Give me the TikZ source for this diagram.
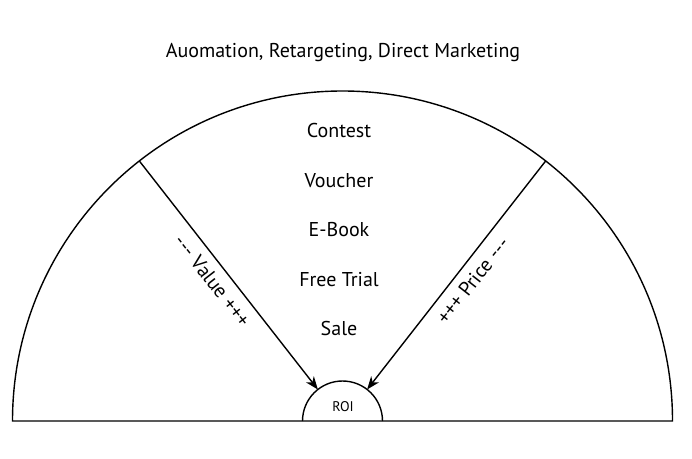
\documentclass[tikz,border=0pt]{standalone}
\usepackage{fontspec}
\setmainfont{PT Sans}
\usetikzlibrary{arrows.meta}

\begin{document}
\begin{tikzpicture}[x=1pt,y=1pt,
	item/.style={font=\fontsize{20}{24}\selectfont},
	pointer/.style={line width=1.4pt,-{Stealth[length=13pt,width=10pt,inset=4pt]}}]
	\useasboundingbox (0,0) rectangle (692,458);
	\coordinate (O) at (342.5,37);
	% outer half circle and the ROI
	\draw[line width=1.4pt] ([xshift=-330pt]O) arc (180:0:330) -- cycle;
	\draw[line width=1.4pt] ([xshift=-40pt]O) arc (180:0:40);
	\node[font=\fontsize{14}{16}\selectfont] (roi) at (343,51) {ROI};
	\node[item] (title) at (343,405) {Auomation, Retargeting, Direct Marketing};
	\node[item] (contest) at (339,327) {Contest};
	\node[item] (voucher) at (339,277) {Voucher};
	\node[item] (ebook) at (339,228) {E-Book};
	\node[item] (freetrial) at (339,178) {Free Trial};
	\node[item] (sale) at (339,130) {Sale};
	% value and price pointers
	\coordinate (valuetop) at ([shift={(128:330)}]O);
	\coordinate (valueend) at ([shift={(128:40)}]O);
	\coordinate (pricetop) at ([shift={(52:330)}]O);
	\coordinate (priceend) at ([shift={(52:40)}]O);
	\draw[pointer] (valuetop) -- node[item, sloped, below=5pt, pos=0.48] (value) {-{}-{}- Value +{}+{}+} (valueend);
	\draw[pointer] (pricetop) -- node[item, sloped, below=5pt, pos=0.48] (price) {+{}+{}+ Price -{}-{}-} (priceend);
\end{tikzpicture}
\end{document}
